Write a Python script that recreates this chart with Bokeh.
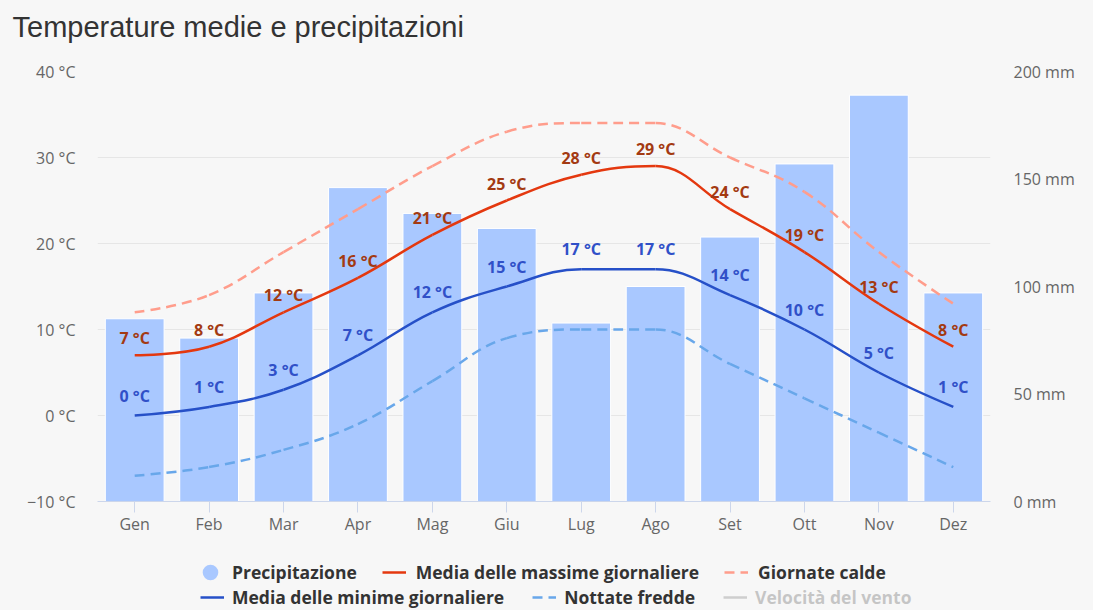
import numpy as np
from bokeh.plotting import figure
from bokeh.layouts import column
from bokeh.models import (FactorRange, Range1d, LinearAxis, FixedTicker, ColumnDataSource,
                          Legend, LegendItem, Title)
from bokeh.core.properties import value
from bokeh.embed import file_html
from bokeh.resources import INLINE

# ---------------- data ----------------
months = ["Gen", "Feb", "Mar", "Apr", "Mag", "Giu", "Lug", "Ago", "Set", "Ott", "Nov", "Dez"]
precip_mm = [85, 76, 97, 146, 134, 127, 83, 100, 123, 157, 189, 97]
temp_max = [7, 8, 12, 16, 21, 25, 28, 29, 24, 19, 13, 8]
temp_min = [0, 1, 3, 7, 12, 15, 17, 17, 14, 10, 5, 1]
hot_days = [12, 14, 19, 24, 29, 33, 34, 34, 30, 26, 19, 13]
cold_nights = [-7, -6, -4, -1, 4, 9, 10, 10, 6, 2, -2, -6]

temp_ticks = [-10, 0, 10, 20, 30, 40]
temp_tick_labels = ["\u221210 \u00b0C", "0 \u00b0C", "10 \u00b0C", "20 \u00b0C", "30 \u00b0C", "40 \u00b0C"]
precip_ticks = [0, 50, 100, 150, 200]
precip_tick_labels = ["0 mm", "50 mm", "100 mm", "150 mm", "200 mm"]

title_text = "Temperature medie e precipitazioni"
lbl_precip = "Precipitazione"
lbl_max = "Media delle massime giornaliere"
lbl_hot = "Giornate calde"
lbl_min = "Media delle minime giornaliere"
lbl_cold = "Nottate fredde"
lbl_wind = "Velocit\u00e0 del vento"

# ---------------- style ----------------
BG = "#f7f7f7"
BAR = "#a9c8ff"
RED = "#e4380f"
BLUE = "#2650c8"
HOT = "#ff9d8c"
COLD = "#68a7ea"
MAX_TXT = "#a33a12"
MIN_TXT = "#3050c8"
FONT = "Open Sans"


def spline_segments(vals):
    """Highcharts-like spline control points for each segment."""
    n = len(vals)
    xs = [i + 0.5 for i in range(n)]
    ys = [float(v) for v in vals]
    rcx, rcy = xs[:], ys[:]
    lcx, lcy = xs[:], ys[:]
    sm = 1.5
    den = sm + 1
    for i in range(1, n - 1):
        px, py = xs[i], ys[i]
        lx, ly = xs[i - 1], ys[i - 1]
        nx, ny = xs[i + 1], ys[i + 1]
        a_x = (sm * px + lx) / den
        a_y = (sm * py + ly) / den
        b_x = (sm * px + nx) / den
        b_y = (sm * py + ny) / den
        corr = ((b_y - a_y) * (b_x - px)) / (b_x - a_x) + py - b_y
        a_y += corr
        b_y += corr
        if a_y > ly and a_y > py:
            a_y = max(ly, py); b_y = 2 * py - a_y
        elif a_y < ly and a_y < py:
            a_y = min(ly, py); b_y = 2 * py - a_y
        if b_y > ny and b_y > py:
            b_y = max(ny, py); a_y = 2 * py - b_y
        elif b_y < ny and b_y < py:
            b_y = min(ny, py); a_y = 2 * py - b_y
        lcx[i], lcy[i], rcx[i], rcy[i] = a_x, a_y, b_x, b_y
    return dict(x0=xs[:-1], y0=ys[:-1], cx0=rcx[:-1], cy0=rcy[:-1],
                cx1=lcx[1:], cy1=lcy[1:], x1=xs[1:], y1=ys[1:])


p = figure(x_range=FactorRange(factors=months), y_range=Range1d(-10, 40),
           frame_width=893, frame_height=430,
           min_border_left=97, min_border_right=103, min_border_top=71, min_border_bottom=39,
           output_backend="svg", toolbar_location=None,
           background_fill_color=BG, border_fill_color=BG, outline_line_color=None)

# title (spacer first so that it sits next to the frame)
p.add_layout(Title(text=" ", text_font="Liberation Sans", text_font_size="16px", standoff=8), "above")
p.add_layout(Title(text=title_text, align="left", offset=-85, vertical_align="top", standoff=0,
                   text_font="Liberation Sans", text_font_size="29px", text_font_style="normal",
                   text_color="#333333"), "above")

p.extra_y_ranges = {"precip": Range1d(0, 200)}

# left axis
ya = p.yaxis[0]
ya.ticker = FixedTicker(ticks=temp_ticks)
ya.major_label_overrides = dict(zip(temp_ticks, temp_tick_labels))
ya.axis_line_color = None
ya.major_tick_line_color = None
ya.minor_tick_line_color = None
ya.major_tick_out = 0
ya.major_tick_in = 0
ya.major_label_standoff = 22
ya.major_label_text_font = FONT
ya.major_label_text_font_size = "16px"
ya.major_label_text_color = "#666666"

# right axis
ra = LinearAxis(y_range_name="precip", ticker=FixedTicker(ticks=precip_ticks))
ra.major_label_overrides = dict(zip(precip_ticks, precip_tick_labels))
ra.axis_line_color = None
ra.major_tick_line_color = None
ra.minor_tick_line_color = None
ra.major_tick_out = 0
ra.major_tick_in = 0
ra.major_label_standoff = 23
ra.major_label_text_font = FONT
ra.major_label_text_font_size = "16px"
ra.major_label_text_color = "#666666"
p.add_layout(ra, "right")

# x axis
xa = p.xaxis[0]
xa.axis_line_color = "#ccd6eb"
xa.major_tick_line_color = "#ccd6eb"
xa.major_tick_out = 11
xa.major_tick_in = 0
xa.major_label_standoff = 0
xa.major_label_text_font = FONT
xa.major_label_text_font_size = "16px"
xa.major_label_text_color = "#666666"

p.xgrid.grid_line_color = None
p.ygrid.grid_line_color = "#e6e6e6"

# bars
src_bar = ColumnDataSource(dict(month=months, precip=precip_mm))
p.vbar(x="month", top="precip", bottom=0, width=0.79, y_range_name="precip",
       fill_color=BAR, line_color="white", line_width=1, source=src_bar)

# curves
p.bezier(source=ColumnDataSource(spline_segments(hot_days)), x0="x0", y0="y0", x1="x1", y1="y1",
         cx0="cx0", cy0="cy0", cx1="cx1", cy1="cy1", line_color=HOT, line_width=2.5, line_dash="10 6")
p.bezier(source=ColumnDataSource(spline_segments(cold_nights)), x0="x0", y0="y0", x1="x1", y1="y1",
         cx0="cx0", cy0="cy0", cx1="cx1", cy1="cy1", line_color=COLD, line_width=2.5, line_dash="10 6")
p.bezier(source=ColumnDataSource(spline_segments(temp_max)), x0="x0", y0="y0", x1="x1", y1="y1",
         cx0="cx0", cy0="cy0", cx1="cx1", cy1="cy1", line_color=RED, line_width=2.5)
p.bezier(source=ColumnDataSource(spline_segments(temp_min)), x0="x0", y0="y0", x1="x1", y1="y1",
         cx0="cx0", cy0="cy0", cx1="cx1", cy1="cy1", line_color=BLUE, line_width=2.5)

# data labels
src_max = ColumnDataSource(dict(x=months, y=temp_max, t=[f"{v} \u00b0C" for v in temp_max]))
src_min = ColumnDataSource(dict(x=months, y=temp_min, t=[f"{v} \u00b0C" for v in temp_min]))
for src, col, off in ((src_max, MAX_TXT, -17), (src_min, MIN_TXT, -20)):
    p.text(x="x", y="y", text="t", source=src, text_align="center", text_baseline="alphabetic",
           y_offset=off, text_font=value(FONT), text_font_style="bold", text_font_size="16px",
           text_color=col)

# ---------------- legend strip (separate figure below the chart) ----------------
lg = figure(frame_width=893, frame_height=70, x_range=Range1d(0, 1), y_range=Range1d(0, 1),
            x_axis_type=None, y_axis_type=None,
            min_border_left=97, min_border_right=103, min_border_top=0, min_border_bottom=0,
            output_backend="svg", toolbar_location=None,
            background_fill_color=BG, border_fill_color=BG, outline_line_color=None)
lg.xgrid.visible = False
lg.ygrid.visible = False

# legend proxy renderers (one NaN point each, nothing drawn in the strip)
NA = [float("nan")]
r_precip = lg.scatter(x=NA, y=NA, marker="circle", size=10, fill_color=BAR,
                      line_color=BAR, line_width=6)
r_max = lg.line(x=NA, y=NA, line_color=RED, line_width=2.5)
r_hot = lg.line(x=NA, y=NA, line_color=HOT, line_width=2.5, line_dash="10 6")
r_min = lg.line(x=NA, y=NA, line_color=BLUE, line_width=2.5)
r_cold = lg.line(x=NA, y=NA, line_color=COLD, line_width=2.5, line_dash="10 6")
r_wind = lg.line(x=NA, y=NA, line_color="#555555", line_width=2.5)
r_wind.visible = False


def make_leg(items, loc, standoff, spacing):
    return Legend(items=[LegendItem(label=value(t), renderers=[r]) for t, r in items],
                  location=loc, orientation="horizontal",
                  glyph_width=24, glyph_height=24, label_height=24,
                  label_standoff=standoff, spacing=spacing, padding=0, margin=0,
                  background_fill_alpha=0, border_line_alpha=0,
                  label_text_font=FONT, label_text_font_style="bold",
                  label_text_font_size="17.5px", label_text_color="#333333",
                  click_policy="hide", inactive_fill_color=BG, inactive_fill_alpha=0.75)


lg.add_layout(make_leg([(lbl_precip, r_precip), (lbl_max, r_max), (lbl_hot, r_hot)],
                       (101, 26), 10, 25), "center")
lg.add_layout(make_leg([(lbl_min, r_min), (lbl_cold, r_cold), (lbl_wind, r_wind)],
                       (103, 1), 8, 28), "center")

layout = column(p, lg, spacing=0, styles={"background-color": BG})
open("out.html", "w").write(file_html(layout, INLINE))
